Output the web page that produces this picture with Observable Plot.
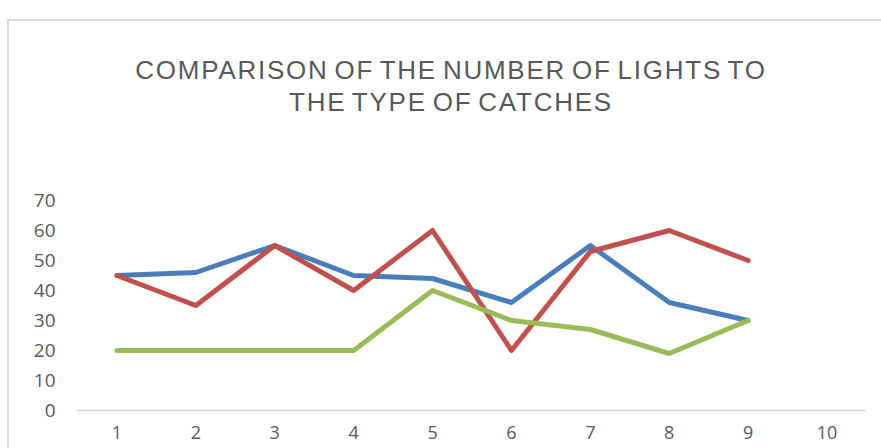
<!DOCTYPE html>
<html>
<head>
<meta charset="utf-8">
<script src="https://cdn.jsdelivr.net/npm/d3@7"></script>
<script src="https://cdn.jsdelivr.net/npm/@observablehq/plot@0.6"></script>
<style>
  html, body { margin: 0; padding: 0; background: #fff; }
  #wrap { position: relative; width: 881px; height: 448px; overflow: hidden; }
  #frame { position: absolute; left: 7px; top: 19px; width: 900px; height: 500px;
           border-top: 2px solid #d9d9d9; border-left: 2px solid #d9d9d9; box-sizing: border-box; }
  #title { position: absolute; left: 0; width: 902px; top: 54px; text-align: center;
           font-family: "Liberation Sans", Arial, sans-serif; font-size: 26px; line-height: 32px;
           color: #595959; letter-spacing: 1.75px; word-spacing: -3px; }
  #chart { position: absolute; left: 0; top: 0; }
</style>
</head>
<body>
<div id="wrap">
  <div id="frame"></div>
  <div id="chart"></div>
  <div id="title">COMPARISON OF THE NUMBER OF LIGHTS TO<br>THE TYPE OF CATCHES</div>
</div>
<script>
const categories = [1, 2, 3, 4, 5, 6, 7, 8, 9, 10];
const seriesNames = ["Series 1", "Series 2", "Series 3"];
const blueValues  = [45, 46, 55, 45, 44, 36, 55, 36, 30];
const redValues   = [45, 35, 55, 40, 60, 20, 53, 60, 50];
const greenValues = [20, 20, 20, 20, 40, 30, 27, 19, 30];
const colors = ["#4a7ebb", "#c0504d", "#9bbb59"];
const yTicks = [0, 10, 20, 30, 40, 50, 60, 70];

const allSeries = [blueValues, redValues, greenValues];
const data = allSeries.flatMap((vals, i) =>
  vals.map((v, j) => ({ series: seriesNames[i], cat: categories[j], value: v })));

const chart = Plot.plot({
  width: 881,
  height: 448,
  marginTop: 200,
  marginBottom: 38,
  marginLeft: 77,
  marginRight: 15,
  style: { fontFamily: "'Open Sans', 'Liberation Sans', sans-serif", fontSize: "19px", color: "#595959", background: "transparent" },
  x: { type: "point", domain: categories, padding: 0.5, round: false, label: null },
  y: { domain: [0, 70], ticks: yTicks, label: null },
  color: { domain: seriesNames, range: colors },
  marks: [
    Plot.ruleY([0], { stroke: "#d9d9d9", strokeWidth: 1.5 }),
    Plot.axisY({ ticks: yTicks, tickSize: 0, tickPadding: 22, label: null, fill: "#595959" }),
    Plot.axisX({ tickSize: 0, tickPadding: 16, fontSize: 18, label: null, fill: "#595959" }),
    Plot.line(data, { x: "cat", y: "value", z: "series", stroke: "series",
                      strokeWidth: 5, strokeLinejoin: "round", strokeLinecap: "round" })
  ]
});
document.getElementById("chart").appendChild(chart);
</script>
</body>
</html>
